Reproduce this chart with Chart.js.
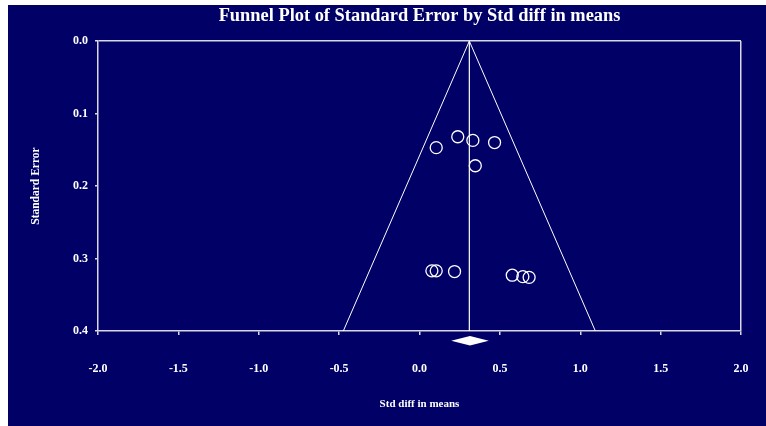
<!DOCTYPE html>
<html>
<head>
<meta charset="utf-8">
<script src="https://cdn.jsdelivr.net/npm/chart.js@4.4.1/dist/chart.umd.min.js"></script>
<style>
    html, body { margin: 0; padding: 0; background: #fff; }
    #wrap { position: absolute; left: 8px; top: 5px; width: 758px; height: 421px; background: #000066; }
</style>
</head>
<body>
<div id="wrap"><canvas id="funnel"></canvas></div>
<script>
// studies: std diff in means vs standard error
const studyEffect = [0.104, 0.238, 0.332, 0.467, 0.347, 0.077, 0.104, 0.218, 0.577, 0.643, 0.682];
const studySE     = [0.147, 0.132, 0.137, 0.140, 0.172, 0.317, 0.317, 0.318, 0.323, 0.325, 0.326];

// pooled estimate and funnel limits
const meanEffect = 0.31;
const funnelX = [-0.474, 0.31, 1.094];
const funnelY = [0.4, 0.0, 0.4];
const diamondX = [0.197, 0.314, 0.431, 0.314];
const diamondY = [0.4135, 0.407, 0.4135, 0.420];

const xTicks = [-2.0, -1.5, -1.0, -0.5, 0.0, 0.5, 1.0, 1.5, 2.0];
const yTicks = [0.0, 0.1, 0.2, 0.3, 0.4];

const serif = "'Liberation Serif', 'Times New Roman', serif";
const white = '#ffffff';
const frame = '#d8d8e8';

// diamond under the axis for the summary effect
const diamondPlugin = {
    id: 'diamond',
    afterDatasetsDraw(chart) {
        const { ctx, scales: { x, y } } = chart;
        ctx.save();
        ctx.beginPath();
        diamondX.forEach((v, i) => {
            const px = x.getPixelForValue(v), py = y.getPixelForValue(diamondY[i]);
            if (i === 0) ctx.moveTo(px, py); else ctx.lineTo(px, py);
        });
        ctx.closePath();
        ctx.fillStyle = white;
        ctx.fill();
        ctx.restore();
    }
};

new Chart(document.getElementById('funnel'), {
    type: 'scatter',
    data: {
        datasets: [
            {
                label: 'Studies',
                data: studyEffect.map((v, i) => ({ x: v, y: studySE[i] })),
                pointStyle: 'circle',
                pointRadius: 6,
                pointHoverRadius: 6,
                backgroundColor: 'rgba(0,0,0,0)',
                borderColor: white,
                borderWidth: 1.3
            },
            {
                label: 'Funnel',
                data: funnelX.map((v, i) => ({ x: v, y: funnelY[i] })),
                showLine: true,
                pointRadius: 0,
                borderColor: white,
                borderWidth: 1
            },
            {
                label: 'Mean',
                data: [{ x: meanEffect, y: 0 }, { x: meanEffect, y: 0.4 }],
                showLine: true,
                pointRadius: 0,
                borderColor: white,
                borderWidth: 1.2
            }
        ]
    },
    options: {
        responsive: true,
        maintainAspectRatio: false,
        animation: false,
        layout: { padding: { left: 0, right: 25, top: 0, bottom: 0 } },
        plugins: {
            legend: { display: false },
            tooltip: { enabled: false },
            title: {
                display: true,
                fullSize: false,
                text: 'Funnel Plot of Standard Error by Std diff in means',
                color: white,
                font: { family: serif, size: 18.4, weight: 'bold' },
                padding: { top: 0, bottom: 14 }
            }
        },
        scales: {
            x: {
                type: 'linear',
                min: -2, max: 2,
                afterBuildTicks: s => { s.ticks = xTicks.map(v => ({ value: v })); },
                afterFit: s => { s.height = 95; s.paddingLeft = 0; s.paddingRight = 0; },
                ticks: {
                    color: white,
                    font: { family: serif, size: 12, weight: 'bold' },
                    padding: 27,
                    callback: v => v.toFixed(1)
                },
                grid: {
                    drawOnChartArea: true,
                    tickLength: 4,
                    color: c => c.tick && c.tick.value === 2 ? frame : 'rgba(0,0,0,0)',
                    tickColor: frame,
                    lineWidth: 1.5
                },
                border: { display: true, color: frame, width: 1.5 },
                title: {
                    display: true,
                    text: 'Std diff in means',
                    color: white,
                    font: { family: serif, size: 11, weight: 'bold' },
                    padding: { top: 0, bottom: 15 }
                }
            },
            y: {
                type: 'linear',
                reverse: true,
                min: 0, max: 0.4,
                afterBuildTicks: s => { s.ticks = yTicks.map(v => ({ value: v })); },
                afterFit: s => { s.width = 90; },
                ticks: {
                    color: white,
                    font: { family: serif, size: 12, weight: 'bold' },
                    padding: 7,
                    callback: v => v.toFixed(1)
                },
                grid: {
                    drawOnChartArea: true,
                    tickLength: 3,
                    color: c => c.tick && c.tick.value === 0 ? frame : 'rgba(0,0,0,0)',
                    tickColor: frame,
                    lineWidth: 1.5
                },
                border: { display: true, color: frame, width: 1.5 },
                title: {
                    display: true,
                    text: 'Standard Error',
                    color: white,
                    font: { family: serif, size: 11.5, weight: 'bold' },
                    padding: { top: 21, bottom: 0 }
                }
            }
        }
    },
    plugins: [diamondPlugin]
});
</script>
</body>
</html>
